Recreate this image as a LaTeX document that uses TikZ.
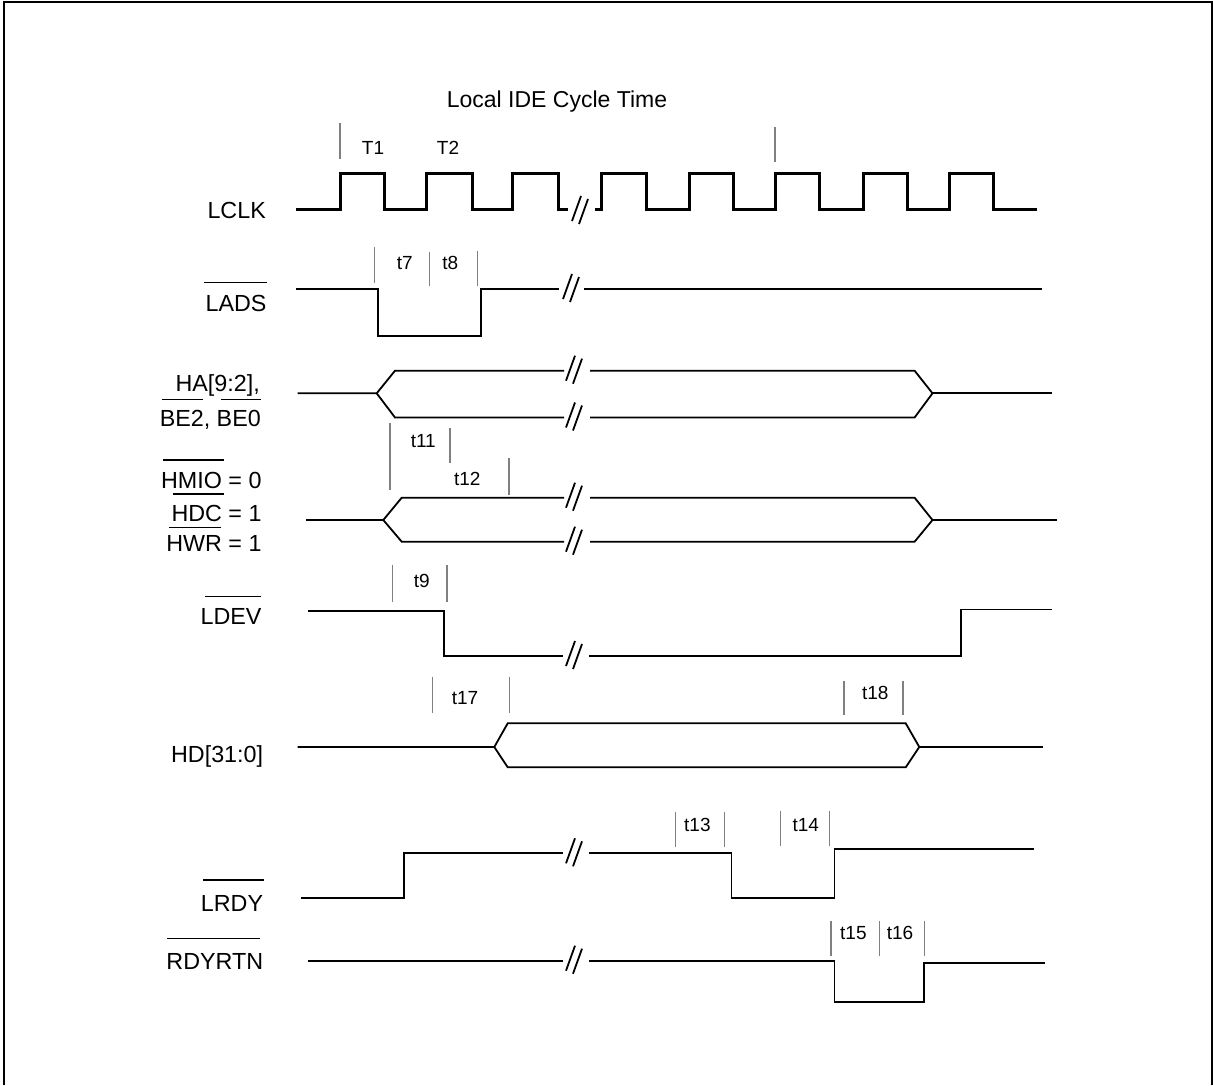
\documentclass[tikz,border=0pt]{standalone}
\usepackage{fontspec}
\setmainfont{Liberation Sans}
\begin{document}
\newcommand\brk[2]{\draw[sig] (#1-8,#2+10) -- (#1+1,#2-15) (#1-1,#2+13) -- (#1+8,#2-12);}
\begin{tikzpicture}[x=1pt,y=-1pt,
  sig/.style={line width=1.8pt},
  clk/.style={line width=3pt},
  tk/.style={line width=1.1pt, draw=black!50},
  ovl/.style={line width=1.4pt},
  lab/.style={font=\fontsize{23.3}{28}\selectfont, inner sep=0pt, anchor=base east},
  tl/.style={font=\fontsize{19}{23}\selectfont, inner sep=0pt, anchor=base},
  ttl/.style={font=\fontsize{23}{28}\selectfont, inner sep=0pt, anchor=base}]
\useasboundingbox (0,0) rectangle (1213,1085);
\draw[line width=2pt] (3.7,1085) -- (3.7,2) -- (1211.7,2) -- (1211.7,1085);

% title
\node[ttl] (title) at (557,107.3) {Local IDE Cycle Time};

% labels
\node[lab] (lclk) at (266,218) {LCLK};
\node[lab] (lads) at (266.7,311.3) {LADS};
\node[lab] (ha) at (260,391.7) {HA[9:2],};
\node[lab] (be) at (261,426.7) {BE2, BE0};
\node[lab] (hmio) at (261.7,488.3) {HMIO = 0};
\node[lab] (hdc) at (261.7,521) {HDC = 1};
\node[lab] (hwr) at (261.7,551.7) {HWR = 1};
\node[lab] (ldev) at (261.7,624.3) {LDEV};
\node[lab] (hd) at (263.3,762) {HD[31:0]};
\node[lab] (lrdy) at (263.3,911) {LRDY};
\node[lab] (rdyrtn) at (263.3,969) {RDYRTN};

% overlines
\draw[ovl] (204.3,282.3) -- (266.7,282.3);
\draw[ovl] (161.7,399.3) -- (202.7,399.3);
\draw[ovl] (221,399.3) -- (261,399.3);
\draw[ovl] (163.3,460) -- (224,460);
\draw[ovl] (173.3,494) -- (224,494);
\draw[ovl] (169,527.3) -- (221,527.3);
\draw[ovl] (205,596.7) -- (261,596.7);
\draw[ovl] (203.3,880) -- (264.3,880);
\draw[ovl] (167.3,938.3) -- (260,938.3);

% timing labels
\node[tl] (T1) at (373,154) {T1};
\node[tl] (T2) at (448,154) {T2};
\node[tl] (t7) at (404.7,269.3) {t7};
\node[tl] (t8) at (450.3,269.3) {t8};
\node[tl] (t11) at (423.3,447.3) {t11};
\node[tl] (t12) at (467.3,485) {t12};
\node[tl] (t9) at (421.7,587.7) {t9};
\node[tl] (t17) at (465,704) {t17};
\node[tl] (t18) at (875.3,699.3) {t18};
\node[tl] (t13) at (697.4,831.7) {t13};
\node[tl] (t14) at (805.8,831.7) {t14};
\node[tl] (t15) at (853.4,939) {t15};
\node[tl] (t16) at (900,939) {t16};

% ticks
\draw[tk] (340,123) -- (340,159);
\draw[tk] (775,127) -- (775,162);
\draw[tk] (374.3,247.3) -- (374.3,282.7);
\draw[tk] (429.3,251.7) -- (429.3,285.7);
\draw[tk] (477.7,250.7) -- (477.7,285.7);
\draw[tk] (390,422.7) -- (390,490);
\draw[tk] (450,428.3) -- (450,462.7);
\draw[tk] (509,458.3) -- (509,495);
\draw[tk] (392.7,565) -- (392.7,601.7);
\draw[tk] (447,565) -- (447,601.7);
\draw[tk] (432.7,676.7) -- (432.7,712.7);
\draw[tk] (509.3,676.7) -- (509.3,712.7);
\draw[tk] (844,680.7) -- (844,715);
\draw[tk] (903,680.7) -- (903,715);
\draw[tk] (675.2,811.7) -- (675.2,846.7);
\draw[tk] (724.3,811.7) -- (724.3,846.7);
\draw[tk] (780.7,810.7) -- (780.7,846);
\draw[tk] (829.2,810.7) -- (829.2,846);
\draw[tk] (831,920.7) -- (831,956);
\draw[tk] (879.8,920.7) -- (879.8,956);
\draw[tk] (924.6,920.7) -- (924.6,956);

% LCLK
\draw[clk] (296,209) -- (340,209) -- (340,173) -- (384,173) -- (384,209) -- (426,209) -- (426,173) -- (472,173) -- (472,209) -- (512,209) -- (512,173) -- (558,173) -- (558,209) -- (568,209);
\draw[clk] (595,209) -- (601,209) -- (601,173) -- (646,173) -- (646,209) -- (689,209) -- (689,173) -- (733,173) -- (733,209) -- (775,209) -- (775,173) -- (819,173) -- (819,209) -- (863,209) -- (863,173) -- (907,173) -- (907,209) -- (949,209) -- (949,173) -- (993,173) -- (993,209) -- (1037,209);
\brk{580}{211}

% LADS
\draw[sig] (296,289) -- (377.7,289) -- (377.7,336) -- (481,336) -- (481,289) -- (559.3,289);
\draw[sig] (584,289) -- (1041.7,289);
\brk{571}{289}

% HA
\draw[sig] (297.7,393.3) -- (376.7,393.3) -- (395,370.7) -- (564,370.7);
\draw[sig] (376.7,393.3) -- (395,417.5) -- (564,417.5);
\draw[sig] (590,370.7) -- (914.6,370.7) -- (932.5,393.3) -- (914.6,417.5) -- (590,417.5);
\draw[sig] (932.5,393.3) -- (1052,393.3);
\brk{574}{370.7}
\brk{574}{417.5}

% HMIO
\draw[sig] (306,520) -- (383.3,520) -- (401.7,497.7) -- (564,497.7);
\draw[sig] (383.3,520) -- (401.7,541.7) -- (564,541.7);
\draw[sig] (590,497.7) -- (914.6,497.7) -- (932.5,520) -- (914.6,541.7) -- (590,541.7);
\draw[sig] (932.5,520) -- (1057,520);
\brk{574}{497.7}
\brk{574}{541.7}

% LDEV
\draw[sig] (308.3,611) -- (444.3,611) -- (444.3,656) -- (563.3,656);
\draw[sig] (589.3,656) -- (961,656) -- (961,609.5) -- (1051.7,609.5);
\brk{574}{656}

% HD
\draw[sig] (297.7,747) -- (494.3,747) -- (507.7,723.3) -- (905.7,723.3) -- (919.3,747) -- (905.7,767.3) -- (507.7,767.3) -- (494.3,747);
\draw[sig] (919.3,747) -- (1043.3,747);

% LRDY
\draw[sig] (301,898.3) -- (404.3,898.3) -- (404.3,853.3) -- (563.3,853.3);
\draw[sig] (589.3,853.3) -- (731.5,853.3) -- (731.5,898.3) -- (834.5,898.3) -- (834.5,849.3) -- (1033.8,849.3);
\brk{574}{853.3}

% RDYRTN
\draw[sig] (308.3,960.7) -- (563.3,960.7);
\draw[sig] (589.3,960.7) -- (834.5,960.7) -- (834.5,1002.3) -- (923.6,1002.3) -- (923.6,963) -- (1044.5,963);
\brk{574}{960.7}
\end{tikzpicture}
\end{document}
